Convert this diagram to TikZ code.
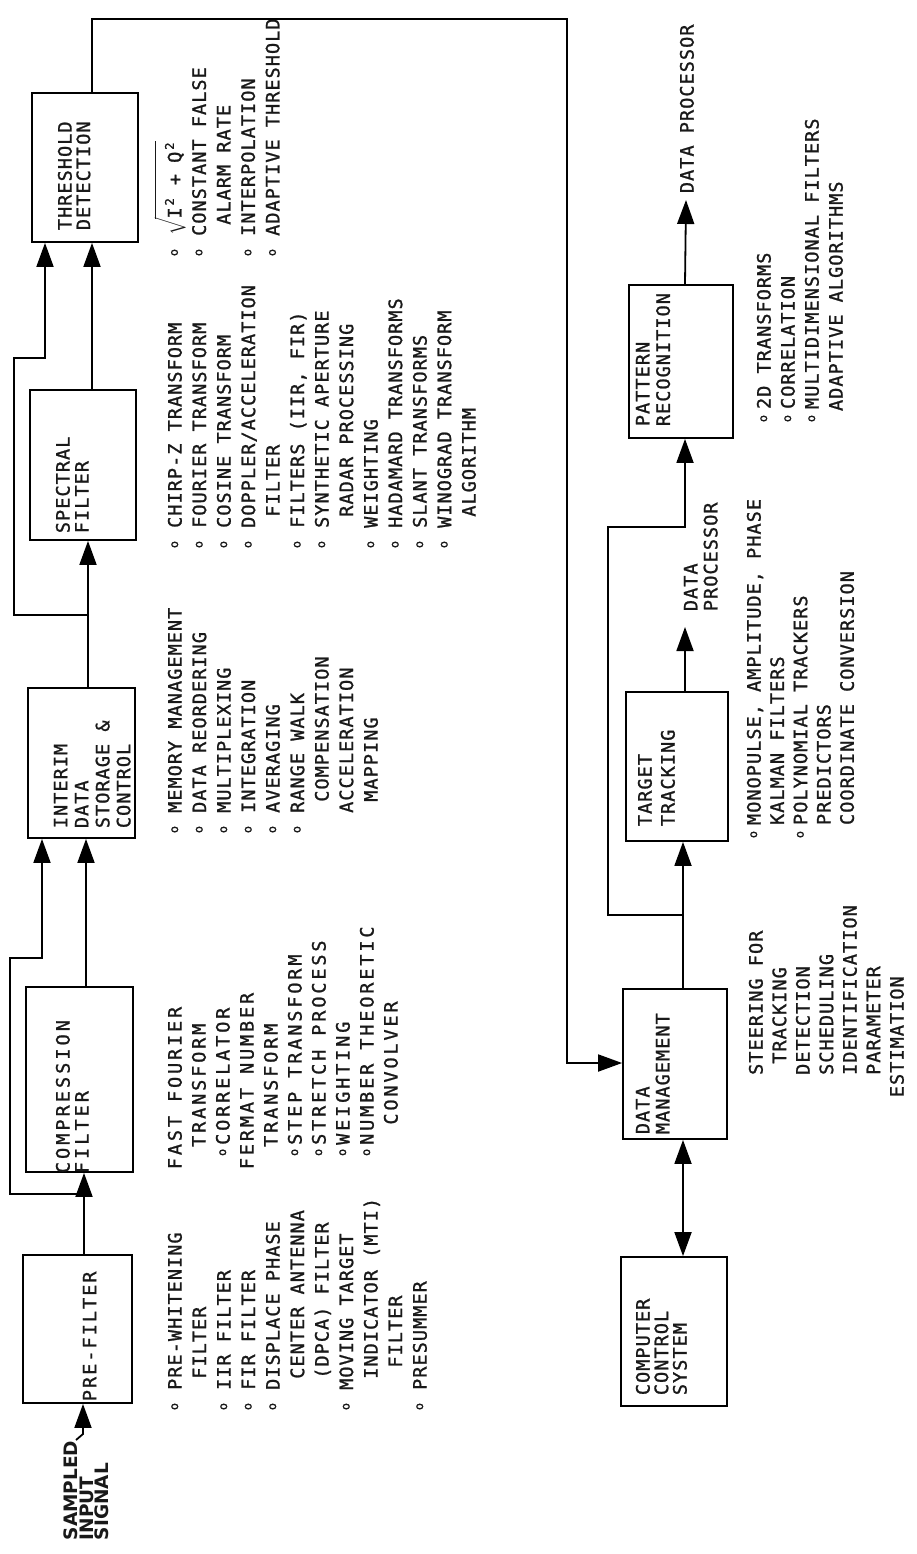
\documentclass[tikz,border=0pt]{standalone}
\usepackage{fontspec}
\usepackage{amsmath}
\usetikzlibrary{arrows.meta}
\newfontfamily\tw[LetterSpace=5.7,FakeBold=1.2]{DejaVu Sans Mono}
\newfontfamily\twc[LetterSpace=15.5,FakeBold=1.2]{DejaVu Sans Mono}
\newfontfamily\twd[LetterSpace=16.5,FakeBold=1.2]{DejaVu Sans Mono}
\newfontfamily\twe[LetterSpace=11,FakeBold=1.2]{DejaVu Sans Mono}
\newfontfamily\sigf{DejaVu Sans Bold}
\newcommand\tf[1]{\tw\fontsize{18.5}{#1}\selectfont}
\newcommand\bul{{\ooalign{\hphantom{X}\cr\hidewidth\raisebox{3.6pt}{\fontsize{12}{12}\selectfont o}\hidewidth\cr}}}
\newcommand\supc{{\ooalign{\hphantom{X}\cr\hidewidth\raisebox{7.5pt}{\fontsize{12}{12}\selectfont 2}\hidewidth\cr}}}
\newcommand\sk{\hphantom{X}}
\begin{document}
\begin{tikzpicture}[x=1pt,y=-1pt,line width=1.8pt,
  box/.style={draw,inner sep=0pt},
  lst/.style={rotate=90,anchor=north west,inner sep=0pt,align=left,font=\tf{24.5},text=black!90},
  btx/.style={rotate=90,anchor=north west,inner sep=0pt,align=left,text=black!90},
  arr/.style={-{Triangle[length=24pt,width=17pt]}},
  dbl/.style={{Triangle[length=24pt,width=17pt]}-{Triangle[length=24pt,width=17pt]}}]
\useasboundingbox (0,0) rectangle (916,1554);
\fill[white] (0,0) rectangle (916,1554);

% ---------- boxes ----------
\node[box,minimum width=106pt,minimum height=149pt] (thr)  at (85,167.5) {};
\node[box,minimum width=106pt,minimum height=150pt] (spec) at (83,465) {};
\node[box,minimum width=107pt,minimum height=150pt] (int)  at (81.5,763) {};
\node[box,minimum width=107pt,minimum height=185pt] (comp) at (79.5,1079.5) {};
\node[box,minimum width=109pt,minimum height=148pt] (pre)  at (77.5,1329) {};
\node[box,minimum width=104pt,minimum height=153pt] (pat)  at (681,361.5) {};
\node[box,minimum width=102pt,minimum height=149pt] (tt)   at (677,766.5) {};
\node[box,minimum width=104pt,minimum height=150pt] (dm)   at (675,1064) {};
\node[box,minimum width=106pt,minimum height=149pt] (ccs)  at (674,1331.5) {};

% ---------- box texts ----------
\node[btx,font=\tf{18.5}] (thrt) at (57,231) {THRESHOLD\\DETECTION};
\node[btx,font=\tf{19}] (spect) at (55,534) {SPECTRAL\\FILTER};
\node[btx,font=\tf{21}] (intt) at (53,829) {INTERIM\\DATA\\STORAGE \&\\CONTROL};
\node[btx,font={\twd\fontsize{18.5}{19}\selectfont}] (compt) at (55,1174) {COMPRESSION\\FILTER};
\node[btx,font={\twe\fontsize{18.5}{19}\selectfont}] (pret) at (82,1402) {PRE-FILTER};
\node[btx,font=\tf{20.5}] (patt) at (635,427) {PATTERN\\RECOGNITION};
\node[btx,font=\tf{23}] (ttt) at (637,827) {TARGET\\TRACKING};
\node[btx,font=\tf{20}] (dmt) at (635,1135) {DATA\\MANAGEMENT};
\node[btx,font=\tf{18.5}] (ccst) at (635,1396) {COMPUTER\\CONTROL\\SYSTEM};
\node[btx,font={\sigf\fontsize{18.5}{15.5}\selectfont}] (sig) at (63,1541) {SAMPLED\\INPUT\\SIGNAL};
\node[btx,font=\tf{20}] (dp1) at (683,612) {DATA\\PROCESSOR};
\node[btx,font=\tf{20}] (dp2) at (679,194) {DATA PROCESSOR};

% ---------- lists ----------
\node[lst] (l1) at (167,1413) {\bul\sk PRE-WHITENING\\
\sk\sk\sk FILTER\\
\bul\sk IIR FILTER\\
\bul\sk FIR FILTER\\
\bul\sk DISPLACE PHASE\\
\sk\sk\sk CENTER ANTENNA\\
\sk\sk\sk (DPCA) FILTER\\
\bul\sk MOVING TARGET\\
\sk\sk\sk INDICATOR (MTI)\\
\sk\sk\sk\sk FILTER\\
\bul\sk PRESUMMER};

\node[lst,font={\twc\fontsize{18.5}{24}\selectfont}] (l2) at (167,1170) {FAST FOURIER\\
\sk\sk TRANSFORM\\
\sk\bul\hspace{2pt}CORRELATOR\\
FERMAT NUMBER\\
\sk\sk TRANSFORM\\
\sk\bul\hspace{2pt}STEP TRANSFORM\\
\sk\bul\hspace{2pt}STRETCH PROCESS\\
\sk\bul\hspace{2pt}WEIGHTING\\
\sk\bul\hspace{2pt}NUMBER THEORETIC\\
\sk\sk\sk\sk CONVOLVER};

\node[lst] (l3) at (167,836) {\bul\sk MEMORY MANAGEMENT\\
\bul\sk DATA REORDERING\\
\bul\sk MULTIPLEXING\\
\bul\sk INTEGRATION\\
\bul\sk AVERAGING\\
\bul\sk RANGE WALK\\
\sk\sk\sk COMPENSATION\\
\sk\sk ACCELERATION\\
\sk\sk\sk MAPPING};

\node[lst] (l4) at (167,551) {\bul\sk CHIRP-Z TRANSFORM\\
\bul\sk FOURIER TRANSFORM\\
\bul\sk COSINE TRANSFORM\\
\bul\sk DOPPLER/ACCELERATION\\
\sk\sk\sk FILTER\\
\bul\sk FILTERS (IIR, FIR)\\
\bul\sk SYNTHETIC APERTURE\\
\sk\sk\sk RADAR PROCESSING\\
\bul\sk WEIGHTING\\
\bul\sk HADAMARD TRANSFORMS\\
\bul\sk SLANT TRANSFORMS\\
\bul\sk WINOGRAD TRANSFORM\\
\sk\sk\sk ALGORITHM};

\node[lst] (l5) at (167,259) {\bul\sk\vphantom{X}\smash{$\sqrt{\rule{0pt}{23pt}\text{I\supc\sk+\sk Q\supc}}$}\\
\bul\sk CONSTANT FALSE\\
\sk\sk\sk ALARM RATE\\
\bul\sk INTERPOLATION\\
\bul\sk ADAPTIVE THRESHOLD};

\node[lst,font=\tf{23.5}] (l6) at (748,1098) {\sk\sk STEERING FOR\\
\sk\sk\sk TRACKING\\
\sk\sk DETECTION\\
\sk\sk SCHEDULING\\
\sk\sk IDENTIFICATION\\
\sk\sk PARAMETER\\
ESTIMATION};

\node[lst,font=\tf{23.3}] (l7) at (746,841) {\bul\hspace{4pt}MONOPULSE, AMPLITUDE, PHASE\\
\sk\hspace{4pt}KALMAN FILTERS\\
\bul\hspace{4pt}POLYNOMIAL TRACKERS\\
\sk\hspace{4pt}PREDICTORS\\
\sk\hspace{4pt}COORDINATE CONVERSION};

\node[lst,font=\tf{24}] (l8) at (756,425) {\bul\hspace{4pt}2D TRANSFORMS\\
\bul\hspace{4pt}CORRELATION\\
\bul\hspace{4pt}MULTIDIMENSIONAL FILTERS\\
\sk\hspace{2pt}ADAPTIVE ALGORITHMS};

% ---------- connectors ----------
\coordinate (xs) at (83,0);
\coordinate (s0) at (76,1440);
\draw[arr] (s0) -- (83,1434) -- (pre.south -| xs);

\coordinate (xa) at (84,0);
\coordinate (ja) at (84,1194);
\coordinate (xc) at (42,0);
\draw[arr] (pre.north -| xa) -- (comp.south -| xa);
\draw[arr] (ja) -- (10,1194) -- (10,958) -- (42,958) -- (int.south -| xc);

\coordinate (xb) at (86,0);
\draw[arr] (comp.north -| xb) -- (int.south -| xb);

\coordinate (xd) at (88,0);
\coordinate (jb) at (88,615);
\coordinate (xe) at (45,0);
\draw[arr] (int.north -| xd) -- (spec.south -| xd);
\draw[arr] (jb) -- (14,615) -- (14,358) -- (45,358) -- (thr.south -| xe);

\coordinate (xf) at (92,0);
\coordinate (yg) at (0,1063);
\draw[arr] (spec.north -| xf) -- (thr.south -| xf);
\draw[arr] (thr.north -| xf) -- (92,19) -- (567,19) -- (567,1063) -- (dm.west |- yg);

\coordinate (xh) at (683,0);
\coordinate (jc) at (683,915);
\coordinate (xi) at (685,0);
\draw[dbl] (dm.south -| xh) -- (ccs.north -| xh);
\draw[arr] (dm.north -| xh) -- (tt.south -| xh);
\draw[arr] (jc) -- (608,915) -- (608,527) -- (685,527) -- (pat.south -| xi);
\coordinate (e1) at (685,627);
\coordinate (e2) at (686,200);
\draw[arr] (tt.north -| xi) -- (e1);
\draw[arr] (pat.north -| xi) -- (e2);
\end{tikzpicture}
\end{document}
